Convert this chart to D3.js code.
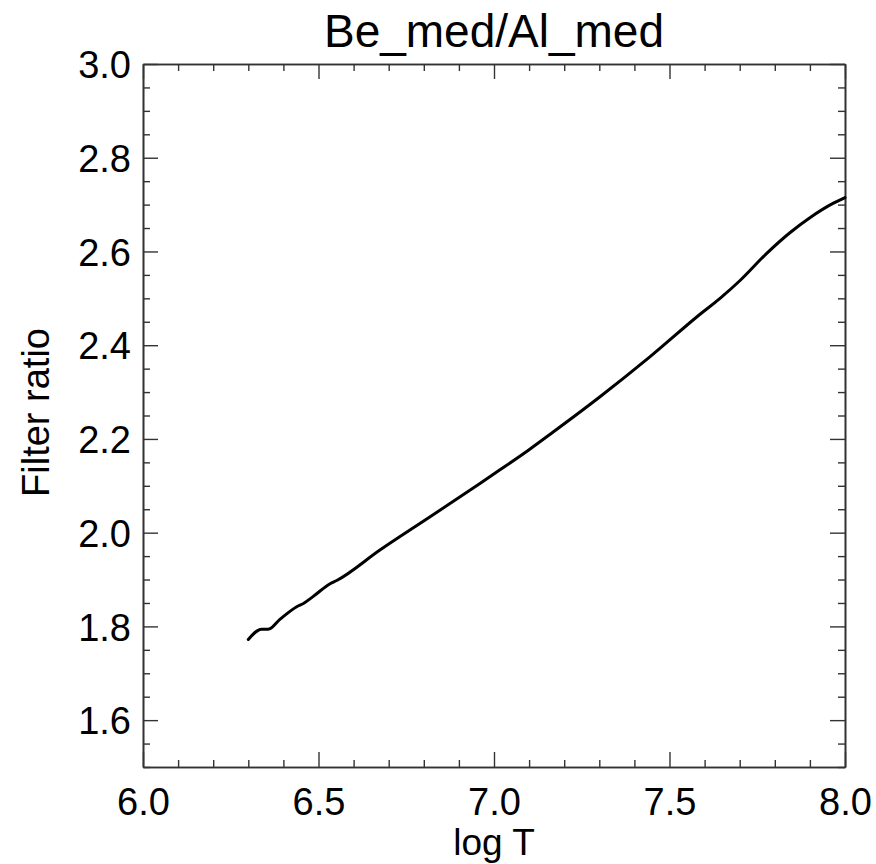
<!DOCTYPE html>
<html>
<head>
<meta charset="utf-8">
<script src="https://cdn.jsdelivr.net/npm/d3@7"></script>
<style>
  html, body { margin: 0; padding: 0; background: #fff; }
  svg { display: block; font-family: "Liberation Sans", Arial, Helvetica, sans-serif; }
</style>
</head>
<body>
<svg id="chart" width="876" height="864"></svg>
<script>
const titleText = "Be_med/Al_med";
const xLabel = "log T";
const yLabel = "Filter ratio";

const logT = [6.300, 6.338, 6.357, 6.390, 6.438, 6.457, 6.485, 6.533, 6.552, 6.675, 6.818,
              6.960, 7.017, 7.100, 7.160, 7.302, 7.444, 7.587, 7.644, 7.701, 7.777, 7.843,
              7.900, 7.967, 8.000];
const ratio = [1.772, 1.794, 1.794, 1.815, 1.842, 1.849, 1.864, 1.891, 1.898, 1.963, 2.034,
               2.105, 2.134, 2.177, 2.210, 2.290, 2.375, 2.466, 2.500, 2.538, 2.596, 2.640,
               2.672, 2.703, 2.715];

const xMajor = [6.0, 6.5, 7.0, 7.5, 8.0];
const yMajor = [1.6, 1.8, 2.0, 2.2, 2.4, 2.6, 2.8, 3.0];
const xDomain = [6.0, 8.0];
const yDomain = [1.5, 3.0];

(function () {
const L = 143, R = 845, T = 64, B = 767;
const svg = d3.select("#chart");
const x = d3.scaleLinear().domain(xDomain).range([L, R]);
const y = d3.scaleLinear().domain(yDomain).range([B, T]);

const xMinor = d3.range(0, 21).map(i => 6.0 + i * 0.1).filter(v => !xMajor.some(m => Math.abs(m - v) < 1e-6));
const yMinor = d3.range(0, 31).map(i => 1.5 + i * 0.05).filter(v => !yMajor.some(m => Math.abs(m - v) < 1e-6));

const axColor = "#333";
const fmt = d3.format(".1f");
const MAJ = 15, MIN = 7;

const gBottom = svg.append("g").attr("transform", `translate(0,${B})`)
  .call(d3.axisBottom(x).tickValues(xMajor).tickFormat(fmt).tickSizeInner(-MAJ).tickSizeOuter(0).tickPadding(21));
gBottom.append("g").call(d3.axisBottom(x).tickValues(xMinor).tickFormat("").tickSizeInner(-MIN).tickSizeOuter(0));
const gTop = svg.append("g").attr("transform", `translate(0,${T})`)
  .call(d3.axisTop(x).tickValues(xMajor).tickFormat("").tickSizeInner(-MAJ).tickSizeOuter(0));
gTop.append("g").call(d3.axisTop(x).tickValues(xMinor).tickFormat("").tickSizeInner(-MIN).tickSizeOuter(0));
const gLeft = svg.append("g").attr("transform", `translate(${L},0)`)
  .call(d3.axisLeft(y).tickValues(yMajor).tickFormat(fmt).tickSizeInner(-MAJ).tickSizeOuter(0).tickPadding(12));
gLeft.append("g").call(d3.axisLeft(y).tickValues(yMinor).tickFormat("").tickSizeInner(-MIN).tickSizeOuter(0));
const gRight = svg.append("g").attr("transform", `translate(${R},0)`)
  .call(d3.axisRight(y).tickValues(yMajor).tickFormat("").tickSizeInner(-MAJ).tickSizeOuter(0));
gRight.append("g").call(d3.axisRight(y).tickValues(yMinor).tickFormat("").tickSizeInner(-MIN).tickSizeOuter(0));

svg.selectAll(".domain").attr("stroke", axColor).attr("stroke-width", 1.6);
svg.selectAll(".tick line").attr("stroke", axColor).attr("stroke-width", 1.4);
svg.selectAll(".tick text").attr("fill", "#000").style("font-size", "38px")
  .style("font-family", "'Liberation Sans', Arial, sans-serif");
gLeft.selectAll(".tick text").attr("dy", "0.36em");
gBottom.selectAll(".tick text").attr("dy", "0.71em");

const pts = logT.map((t, i) => [t, ratio[i]]);
svg.append("path")
  .datum(pts)
  .attr("fill", "none")
  .attr("stroke", "#000")
  .attr("stroke-width", 3)
  .attr("stroke-linejoin", "round")
  .attr("stroke-linecap", "round")
  .attr("d", d3.line().x(d => x(d[0])).y(d => y(d[1])).curve(d3.curveMonotoneX));

svg.append("text").attr("x", (L + R) / 2).attr("y", 47).attr("text-anchor", "middle")
  .style("font-size", "46px").attr("fill", "#000").text(titleText);
svg.append("text").attr("x", (L + R) / 2).attr("y", 855).attr("text-anchor", "middle")
  .style("font-size", "37px").attr("fill", "#000").text(xLabel);
svg.append("text").attr("transform", `translate(49,${(T + B) / 2 - 3}) rotate(-90)`).attr("text-anchor", "middle")
  .style("font-size", "38px").attr("fill", "#000").text(yLabel);
})();
</script>
</body>
</html>
